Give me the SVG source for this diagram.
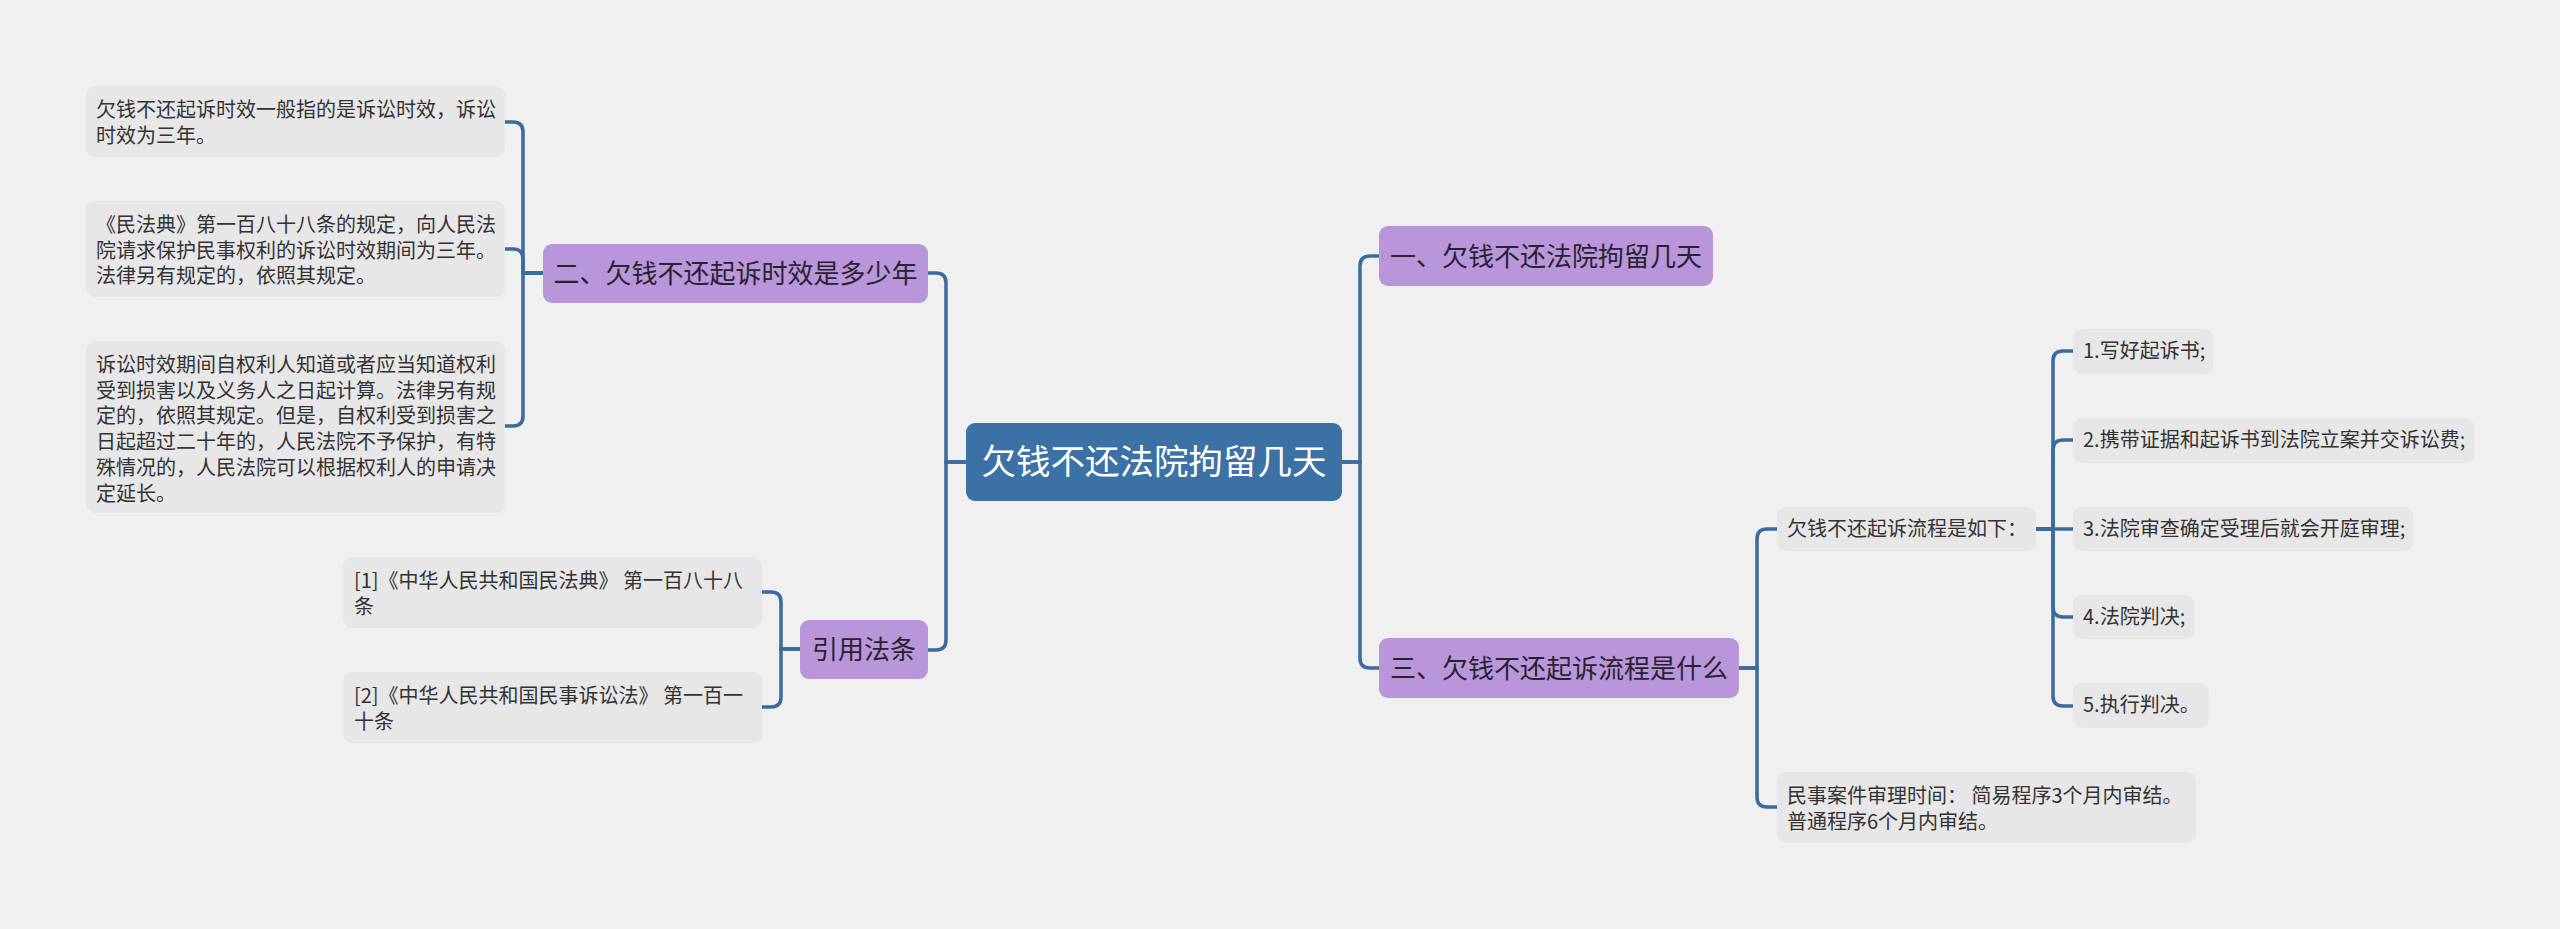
<svg xmlns="http://www.w3.org/2000/svg" width="2560" height="929" viewBox="0 0 2560 929">
<style>
.leaf{fill:#e7e7e7}
.sub{fill:#b896d9}
.root{fill:#3b71a5}
.lt{font-family:"Noto Sans CJK SC","Microsoft YaHei",sans-serif;font-size:20px;fill:#333333}
.st{font-family:"Noto Sans CJK SC","Microsoft YaHei",sans-serif;font-size:26px;fill:#2a2233;text-anchor:middle}
.rt{font-family:"Noto Sans CJK SC","Microsoft YaHei",sans-serif;font-size:34.5px;fill:#ffffff;text-anchor:middle}
.c{fill:none;stroke:#3a6b9c;stroke-width:3.5;stroke-linecap:round}
</style>
<rect x="0" y="0" width="2560" height="929" fill="#f0f0f0"/>
<g id="connectors">
<path class="c" d="M966,462 H946 V283 Q946,273 936,273 H928"/>
<path class="c" d="M966,462 H946 V640 Q946,650 936,650 H928"/>
<path class="c" d="M1342,462 H1360 V266 Q1360,256 1370,256 H1379"/>
<path class="c" d="M1342,462 H1360 V658 Q1360,668 1370,668 H1379"/>
<path class="c" d="M543,273 H523 V132 Q523,122 513,122 H505"/>
<path class="c" d="M543,273 H523 V259 Q523,249 513,249 H505"/>
<path class="c" d="M543,273 H523 V416 Q523,426 513,426 H505"/>
<path class="c" d="M800,649 H781 V602 Q781,592 771,592 H762"/>
<path class="c" d="M800,649 H781 V697 Q781,707 771,707 H762"/>
<path class="c" d="M1739,668 H1757 V539 Q1757,529 1767,529 H1777"/>
<path class="c" d="M1739,668 H1757 V797 Q1757,807 1767,807 H1777"/>
<path class="c" d="M2036,529 H2053 V361 Q2053,351 2063,351 H2073"/>
<path class="c" d="M2036,529 H2053 V450 Q2053,440 2063,440 H2073"/>
<path class="c" d="M2036,529 H2073"/>
<path class="c" d="M2036,529 H2053 V607 Q2053,617 2063,617 H2073"/>
<path class="c" d="M2036,529 H2053 V696 Q2053,706 2063,706 H2073"/>
</g>
<g id="root">
<rect class="root" x="966" y="423" width="376" height="78" rx="9"/>
<text class="rt" x="1154" y="474">欠钱不还法院拘留几天</text>
</g>
<g id="n2">
<rect class="sub" x="543" y="244" width="385" height="59" rx="9"/>
<text class="st" x="735.5" y="283">二、欠钱不还起诉时效是多少年</text>
</g>
<g id="nref">
<rect class="sub" x="800" y="620" width="128" height="59" rx="9"/>
<text class="st" x="864" y="658.5">引用法条</text>
</g>
<g id="n1">
<rect class="sub" x="1379" y="226" width="334" height="60" rx="9"/>
<text class="st" x="1546" y="265.5">一、欠钱不还法院拘留几天</text>
</g>
<g id="n3">
<rect class="sub" x="1379" y="638" width="360" height="60" rx="9"/>
<text class="st" x="1559" y="677.5">三、欠钱不还起诉流程是什么</text>
</g>
<g id="l21">
<rect class="leaf" x="86" y="86" width="419" height="71" rx="9"/>
<text class="lt" x="96" y="117">欠钱不还起诉时效一般指的是诉讼时效，诉讼</text>
<text class="lt" x="96" y="142.7">时效为三年。</text>
</g>
<g id="l22">
<rect class="leaf" x="86" y="201" width="419" height="96" rx="9"/>
<text class="lt" x="96" y="232">《民法典》第一百八十八条的规定，向人民法</text>
<text class="lt" x="96" y="257.7">院请求保护民事权利的诉讼时效期间为三年。</text>
<text class="lt" x="96" y="283.4">法律另有规定的，依照其规定。</text>
</g>
<g id="l23">
<rect class="leaf" x="86" y="341" width="419" height="172" rx="9"/>
<text class="lt" x="96" y="372">诉讼时效期间自权利人知道或者应当知道权利</text>
<text class="lt" x="96" y="397.7">受到损害以及义务人之日起计算。法律另有规</text>
<text class="lt" x="96" y="423.4">定的，依照其规定。但是，自权利受到损害之</text>
<text class="lt" x="96" y="449.1">日起超过二十年的，人民法院不予保护，有特</text>
<text class="lt" x="96" y="474.8">殊情况的，人民法院可以根据权利人的申请决</text>
<text class="lt" x="96" y="500.5">定延长。</text>
</g>
<g id="ref1">
<rect class="leaf" x="343" y="557" width="419" height="71" rx="9"/>
<text class="lt" x="354" y="588">[1]《中华人民共和国民法典》 第一百八十八</text>
<text class="lt" x="354" y="613.7">条</text>
</g>
<g id="ref2">
<rect class="leaf" x="343" y="672" width="419" height="71" rx="9"/>
<text class="lt" x="354" y="703">[2]《中华人民共和国民事诉讼法》 第一百一</text>
<text class="lt" x="354" y="728.7">十条</text>
</g>
<g id="flow">
<rect class="leaf" x="1777" y="507" width="259" height="44" rx="9"/>
<text class="lt" x="1787" y="536">欠钱不还起诉流程是如下：</text>
</g>
<g id="time">
<rect class="leaf" x="1777" y="772" width="419" height="71" rx="9"/>
<text class="lt" x="1787" y="803">民事案件审理时间：  简易程序3个月内审结。</text>
<text class="lt" x="1787" y="828.7">普通程序6个月内审结。</text>
</g>
<g id="s1">
<rect class="leaf" x="2073" y="329" width="140" height="45" rx="9"/>
<text class="lt" x="2083" y="358">1.写好起诉书;</text>
</g>
<g id="s2">
<rect class="leaf" x="2073" y="418" width="401" height="45" rx="9"/>
<text class="lt" x="2083" y="447">2.携带证据和起诉书到法院立案并交诉讼费;</text>
</g>
<g id="s3">
<rect class="leaf" x="2073" y="507" width="340" height="44" rx="9"/>
<text class="lt" x="2083" y="536">3.法院审查确定受理后就会开庭审理;</text>
</g>
<g id="s4">
<rect class="leaf" x="2073" y="595" width="121" height="44" rx="9"/>
<text class="lt" x="2083" y="624">4.法院判决;</text>
</g>
<g id="s5">
<rect class="leaf" x="2073" y="683" width="136" height="45" rx="9"/>
<text class="lt" x="2083" y="712">5.执行判决。</text>
</g>
</svg>
